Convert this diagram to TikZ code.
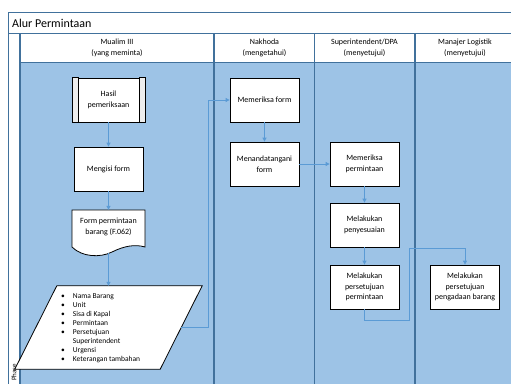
\documentclass[tikz,border=0pt]{standalone}
\usepackage{fontspec}
\setmainfont{Carlito}
\usetikzlibrary{arrows.meta}
\definecolor{lanefill}{HTML}{9DC3E6}
\definecolor{laneline}{HTML}{41719C}
\definecolor{flowblue}{HTML}{5B9BD5}
\definecolor{sidegray}{HTML}{EDEDED}

\begin{document}
\begin{tikzpicture}[x=1pt, y=-1pt,
    proc/.style={draw=black, fill=white, line width=0.8pt, minimum width=69pt, minimum height=44pt, inner sep=1pt, align=center, font=\fontsize{8}{10.5}\selectfont},
    lanehead/.style={align=center, font=\fontsize{8}{10.5}\selectfont},
    flow/.style={draw=flowblue, line width=0.9pt, -{Triangle[length=4pt, width=4pt]}},
    divider/.style={draw=laneline, line width=1.2pt}]
    \useasboundingbox (0,0) rectangle (511,383);
    \clip (0,0) rectangle (511,383);

    % pool, header row and lanes
    \fill[white] (8,12) rectangle (520,390);
    \fill[lanefill] (20,62) rectangle (520,390);
    \draw[laneline, line width=0.6pt] (520,12) -- (8,12) -- (8,390);
    \draw[divider] (8,33.5) -- (520,33.5);
    \draw[laneline, line width=0.6pt] (20,62) -- (520,62);
    \draw[divider] (20,33.5) -- (20,390);
    \draw[divider] (214,33.5) -- (214,390);
    \draw[divider] (314.5,33.5) -- (314.5,390);
    \draw[divider] (415,33.5) -- (415,390);

    \node[anchor=west, inner sep=0pt, font=\fontsize{12}{14}\selectfont] (title) at (12,23) {Alur Permintaan};
    \node[rotate=90, anchor=west, inner sep=0pt, font=\fontsize{7}{8}\selectfont] (phase) at (14,381) {Phase};

    \node[lanehead] (mualim) at (117,48) {Mualim III\\(yang meminta)};
    \node[lanehead] (nakhoda) at (264.5,48) {Nakhoda\\(mengetahui)};
    \node[lanehead] (super) at (364.5,48) {Superintendent/DPA\\(menyetujui)};
    \node[lanehead] (manajer) at (465,48) {Manajer Logistik\\(menyetujui)};

    % Mualim III
    \node[proc, minimum width=72pt] (hasil) at (108.5,100) {Hasil\\pemeriksaan};
    \filldraw[fill=sidegray, draw=black, line width=0.8pt] (hasil.north west) rectangle ([xshift=6pt]hasil.south west);
    \filldraw[fill=sidegray, draw=black, line width=0.8pt] ([xshift=-6pt]hasil.north east) rectangle (hasil.south east);

    \node[proc] (mengisi) at (108.5,169) {Mengisi form};

    \filldraw[fill=white, draw=black, line width=0.8pt] (72,210) -- (145,210) -- (145,247)
        .. controls (135,244) and (124,246) .. (112,252)
        .. controls (100,258) and (82,257) .. (72,247) -- cycle;
    \node[lanehead, minimum width=73pt, minimum height=34pt, inner sep=0pt] (formdoc) at (108.5,227) {Form permintaan\\barang (F.062)};
    \coordinate (docend) at (108.5,253);

    \node[minimum width=145pt, minimum height=83pt, inner sep=0pt] (para) at (108.5,327.5) {};
    \filldraw[fill=white, draw=black, line width=0.8pt] ([xshift=21pt]para.north west) -- ([xshift=21pt]para.north east)
        -- ([xshift=-21pt]para.south east) -- ([xshift=-21pt]para.south west) -- cycle;
    \node[anchor=west, inner sep=0pt, font=\fontsize{7.5}{9}\selectfont] (items) at (61,328) {%
        \begin{tabular}{@{}l@{\hspace{8pt}}l@{}}
        \textbullet & Nama Barang\\
        \textbullet & Unit\\
        \textbullet & Sisa di Kapal\\
        \textbullet & Permintaan\\
        \textbullet & Persetujuan\\
                    & Superintendent\\
        \textbullet & Urgensi\\
        \textbullet & Keterangan tambahan
        \end{tabular}};

    % Nakhoda
    \node[proc] (memform) at (264.5,100) {Memeriksa form};
    \node[proc] (tanda) at (264.5,164) {Menandatangani\\form};

    % Superintendent/DPA
    \node[proc] (memminta) at (364.5,164) {Memeriksa\\permintaan};
    \node[proc] (sesuai) at (364.5,225) {Melakukan\\penyesuaian};
    \node[proc] (setuju) at (364.5,287) {Melakukan\\persetujuan\\permintaan};

    % Manajer Logistik
    \node[proc] (pengadaan) at (465,287) {Melakukan\\persetujuan\\pengadaan barang};

    % Draw the flow between nodes
    \draw[flow] (hasil) -- (mengisi);
    \draw[flow] (mengisi) -- (formdoc.north);
    \draw[flow] (docend) -- (para.north);
    \draw[flow] (para.east) -- ++(27,0) |- (memform.west);
    \draw[flow] (memform) -- (tanda);
    \draw[flow] (tanda) -- (memminta);
    \draw[flow] (memminta) -- (sesuai);
    \draw[flow] (sesuai) -- (setuju);
    \draw[flow] (setuju.south) -- ++(0,11) -- ++(44.5,0) |- ([yshift=16pt]pengadaan.north) -- (pengadaan.north);
\end{tikzpicture}
\end{document}
